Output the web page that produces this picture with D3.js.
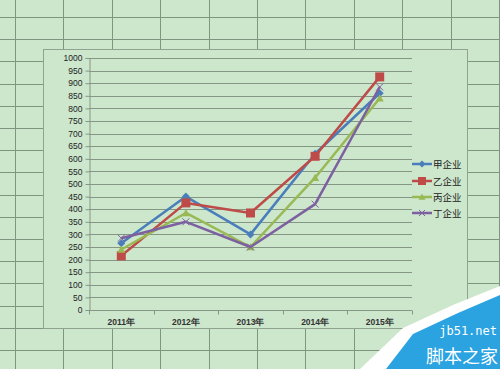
<!DOCTYPE html>
<html><head><meta charset="utf-8">
<script src="https://cdn.jsdelivr.net/npm/d3@7"></script>
<style>html,body{margin:0;padding:0;background:#cde7cd;}svg{display:block}</style>
</head><body>
<script>
const categories = ["2011年","2012年","2013年","2014年","2015年"];
const seriesNames = ["甲企业","乙企业","丙企业","丁企业"];
const jia  = [265, 450, 300, 620, 860];
const yi   = [215, 425, 385, 610, 925];
const bing = [240, 385, 250, 525, 840];
const ding = [285, 350, 250, 420, 885];
const yTicks = d3.range(0, 1001, 50);
const colors = ["#4a7ebb", "#be4b48", "#98b954", "#7d60a0"];
const markers = ["diamond", "square", "triangle", "x"];

const W = 500, H = 369;
const svg = d3.select("body").append("svg").attr("width", W).attr("height", H);
svg.append("rect").attr("width", W).attr("height", H).attr("fill", "#cde7cd");

// spreadsheet grid
const gridG = svg.append("g").attr("stroke", "#7f957f").attr("stroke-width", 1);
const colXs = d3.range(0, 11).map(i => 15 + i * 48.4);
const rowYs = d3.range(0, 16).map(i => 17 + i * 22.2);
colXs.forEach(x => gridG.append("line").attr("x1", Math.round(x) + 0.5).attr("x2", Math.round(x) + 0.5).attr("y1", 0).attr("y2", H));
rowYs.forEach(y => gridG.append("line").attr("x1", 0).attr("x2", W).attr("y1", Math.round(y) + 0.5).attr("y2", Math.round(y) + 0.5));

// chart area
svg.append("rect").attr("x", 43.5).attr("y", 49.5).attr("width", 424).attr("height", 279)
  .attr("fill", "#cde7cd").attr("stroke", "#8fa38f").attr("stroke-width", 1);

const x = d3.scaleBand().domain(categories).range([89, 412]);
const y = d3.scaleLinear().domain([0, 1000]).range([310, 58]);

// gridlines
svg.append("g").selectAll("line").data(yTicks).join("line")
  .attr("x1", 89).attr("x2", 412)
  .attr("y1", d => Math.round(y(d)) + 0.5).attr("y2", d => Math.round(y(d)) + 0.5)
  .attr("stroke", "#859685").attr("stroke-width", 1);

// y axis
const yAxis = svg.append("g").attr("transform", "translate(89.5,0)")
  .call(d3.axisLeft(y).tickValues(yTicks).tickSize(4).tickPadding(3).tickFormat(d3.format("d")));
yAxis.select(".domain").attr("stroke", "#859685");
yAxis.selectAll(".tick line").attr("stroke", "#859685");
yAxis.selectAll("text").attr("font-family", "Liberation Sans, Arial, sans-serif").attr("font-size", 8.5).attr("fill", "#222");

// x axis
const xAxisG = svg.append("g").attr("transform", "translate(0,310.5)");
xAxisG.append("line").attr("x1", 89).attr("x2", 412).attr("stroke", "#859685");
const bounds = categories.map(c => x(c)).concat([x.range()[1]]);
xAxisG.selectAll(".tk").data(bounds).join("line").attr("class", "tk")
  .attr("x1", d => Math.round(d) + 0.5).attr("x2", d => Math.round(d) + 0.5).attr("y1", 0).attr("y2", 4)
  .attr("stroke", "#859685");
xAxisG.selectAll("text").data(categories).join("text")
  .attr("x", d => x(d) + x.bandwidth() / 2).attr("y", 14)
  .attr("text-anchor", "middle").attr("font-family", "Liberation Sans, Arial, sans-serif")
  .attr("font-size", 8.5).attr("font-weight", "bold").attr("fill", "#333").text(d => d);

// series
const allSeries = [jia, yi, bing, ding];
const cx = c => x(c) + x.bandwidth() / 2;
const line = d3.line().x((d, i) => cx(categories[i])).y(d => y(d));

function drawMarker(g, type, color, px, py, s) {
  if (type === "diamond") {
    g.append("path").attr("d", `M${px},${py - s}L${px + s},${py}L${px},${py + s}L${px - s},${py}Z`).attr("fill", color);
  } else if (type === "square") {
    g.append("rect").attr("x", px - s).attr("y", py - s).attr("width", 2 * s).attr("height", 2 * s).attr("fill", color);
  } else if (type === "triangle") {
    g.append("path").attr("d", `M${px},${py - s}L${px + s},${py + s * 0.8}L${px - s},${py + s * 0.8}Z`).attr("fill", color);
  } else {
    g.append("path").attr("d", `M${px - s},${py - s}L${px + s},${py + s}M${px - s},${py + s}L${px + s},${py - s}`)
      .attr("stroke", color).attr("stroke-width", 1);
  }
}

const sizes = [4, 4.5, 4, 3.5];
allSeries.forEach((vals, si) => {
  const g = svg.append("g");
  g.append("path").datum(vals).attr("d", line).attr("fill", "none")
    .attr("stroke", colors[si]).attr("stroke-width", 2.5).attr("stroke-linejoin", "round");
  vals.forEach((v, i) => drawMarker(g, markers[si], colors[si], cx(categories[i]), y(v), sizes[si]));
});

// legend
const legY = [164, 181, 197, 213];
seriesNames.forEach((n, i) => {
  const g = svg.append("g");
  g.append("line").attr("x1", 412).attr("x2", 432).attr("y1", legY[i]).attr("y2", legY[i])
    .attr("stroke", colors[i]).attr("stroke-width", 2.5);
  drawMarker(g, markers[i], colors[i], 422, legY[i], sizes[i] - 0.5);
  g.append("text").attr("x", 433).attr("y", legY[i] + 3.5)
    .attr("font-family", "Noto Sans CJK SC, sans-serif").attr("font-size", 9.5).attr("fill", "#222").text(n);
});

// watermark
svg.append("path").attr("d", "M360,369L403,328L453,305L500,286L500,369Z").attr("fill", "#ffffff");
svg.append("path").attr("d", "M386,369L413,334L458,313L500,295L500,369Z").attr("fill", "#2aa3e0");
svg.append("text").attr("x", 497).attr("y", 335).attr("text-anchor", "end")
  .attr("font-family", "DejaVu Sans Mono, monospace").attr("font-size", 12).attr("fill", "#fff").text("jb51.net");
svg.append("text").attr("x", 498).attr("y", 363).attr("text-anchor", "end")
  .attr("font-family", "Noto Sans CJK SC, sans-serif").attr("font-size", 18).attr("fill", "#fff").text("脚本之家");
</script>
</body></html>
